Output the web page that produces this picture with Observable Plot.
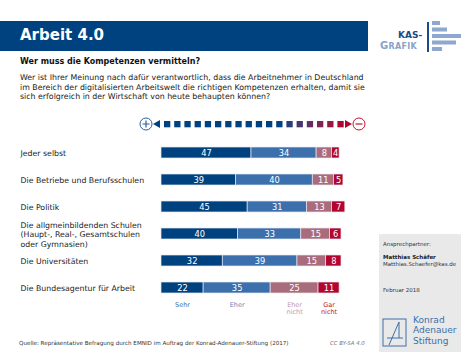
<!DOCTYPE html>
<html><head><meta charset="utf-8">
<script src="https://cdn.jsdelivr.net/npm/d3@7"></script>
<script src="https://cdn.jsdelivr.net/npm/@observablehq/plot@0.6"></script>
<style>
body{margin:0;background:#fff;font-family:"DejaVu Sans",Verdana,sans-serif;}
#page{position:relative;width:475px;height:356px;overflow:hidden;background:#fff;}
.abs{position:absolute;white-space:nowrap;}
#chart{position:absolute;left:0;top:0;}
</style></head>
<body><div id="page">
<div class="abs" style="left:0;top:21px;width:368px;height:30px;background:#00427f;"></div>
<div class="abs" style="left:20px;top:26px;color:#fff;font-weight:bold;font-size:15px;">Arbeit 4.0</div>
<div class="abs" style="left:398px;top:30px;color:#1a4a8a;font-weight:bold;font-size:9px;">KAS-</div>
<div class="abs" style="left:380px;top:40px;color:#8aa2c8;font-weight:bold;font-size:10px;letter-spacing:0.3px;">G<span style="font-size:8px">RAFIK</span></div>
<div class="abs" style="left:427px;top:22px;width:1.5px;height:30px;background:#1a4a8a;"></div>
<div id="logo"></div>
<div class="abs" style="left:20px;top:57px;color:#111;font-weight:bold;font-size:8px;">Wer muss die Kompetenzen vermitteln?</div>
<div class="abs" style="left:20px;top:73px;color:#222;font-size:7.85px;line-height:9.5px;">Wer ist Ihrer Meinung nach dafür verantwortlich, dass die Arbeitnehmer in Deutschland<br>im Bereich der digitalisierten Arbeitswelt die richtigen Kompetenzen erhalten, damit sie<br>sich erfolgreich in der Wirtschaft von heute behaupten können?</div>
<svg id="scalebar" class="abs" style="left:0;top:112px;" width="475" height="26"></svg>
<div class="abs" style="left:379px;top:234px;width:82px;height:118px;background:#e9e9e9;"></div>
<div class="abs" style="left:383px;top:241px;color:#333;font-size:5.5px;">Ansprechpartner:</div>
<div class="abs" style="left:383px;top:254px;color:#222;font-size:5.5px;font-weight:bold;">Matthias Schäfer</div>
<div class="abs" style="left:383px;top:261px;color:#333;font-size:5.5px;">Matthias.Schaefer@kas.de</div>
<div class="abs" style="left:383px;top:287px;color:#333;font-size:5.5px;">Februar 2018</div>
<svg class="abs" style="left:382px;top:318px;" width="26" height="30"><rect x="1" y="1" width="23" height="27" fill="none" stroke="#3b6fa8" stroke-width="1"/><path d="M7 27 L17 4 L17 20 M5 20 L21 20" fill="none" stroke="#3b6fa8" stroke-width="1"/></svg>
<div class="abs" style="left:413px;top:315px;color:#3b6fa8;font-size:9px;line-height:10.3px;">Konrad<br>Adenauer<br>Stiftung</div>
<div class="abs" style="left:19px;top:340px;color:#333;font-size:5.6px;">Quelle: Repräsentative Befragung durch EMNID im Auftrag der Konrad-Adenauer-Stiftung (2017)</div>
<div class="abs" style="left:330px;top:340px;color:#777;font-size:5.4px;font-style:italic;">CC BY-SA 4.0</div>
<div id="chart"></div>
</div>
<script>
const categories = ["Jeder selbst","Die Betriebe und Berufsschulen","Die Politik","Die allgmeinbildenden Schulen\n(Haupt-, Real-, Gesamtschulen\noder Gymnasien)","Die Universitäten","Die Bundesagentur für Arbeit"];
const levels = ["Sehr","Eher","Eher nicht","Gar nicht"];
const legendLabels = ["Sehr","Eher","Eher\nnicht","Gar\nnicht"];
const sehr = [47,39,45,40,32,22];
const eher = [34,40,31,33,39,35];
const eherNicht = [8,11,13,15,15,25];
const garNicht = [4,5,7,6,8,11];
const barColors = ["#00427f","#3b70ad","#a96c7c","#b3052f"];
const legendColors = ["#3b6fa8","#5a86bd","#c397a5","#c0142f"];

const series = [sehr, eher, eherNicht, garNicht];
const data = [];
categories.forEach((c,i)=>levels.forEach((l,j)=>data.push({cat:c, level:l, value:series[j][i]})));

// legend labels under last bar segments
const last = categories.length-1;
let acc = 0;
const legendData = levels.map((l,j)=>{const v=series[j][last]; const mid=acc+v/2; acc+=v; return {x:mid, text:legendLabels[j], color:legendColors[j]};});

const chart = Plot.plot({
  width:475, height:356,
  marginLeft:161, marginRight:122.5, marginTop:128, marginBottom:44,
  style:{fontFamily:"DejaVu Sans, Verdana, sans-serif", background:"transparent"},
  x:{domain:[0,100], axis:null},
  y:{domain:categories, axis:null, padding:0.6},
  color:{domain:levels, range:barColors},
  marks:[
    Plot.barX(data, Plot.stackX({x:"value", y:"cat", z:"level", fill:"level", stroke:"#e4e9f1", strokeWidth:0.7})),
    Plot.textX(data, Plot.stackX({x:"value", y:"cat", z:"level", text:d=>String(d.value), fill:"white", fontSize:8.3})),
    Plot.text(categories, {y:d=>d, text:d=>d, frameAnchor:"left", textAnchor:"start", dx:-141, fontSize:7.8, fill:"#222", lineHeight:1.22}),
    Plot.text(legendData, {x:"x", text:"text", fill:"color", frameAnchor:"bottom", dy:-10, lineAnchor:"top", fontSize:6.5, lineHeight:1.05})
  ]
});
document.getElementById("chart").appendChild(chart);

// decorative scale arrow
const svg = d3.select("#scalebar");
const cy = 12;
svg.append("circle").attr("cx",146).attr("cy",cy).attr("r",6).attr("fill","#fff").attr("stroke","#2f5f9c").attr("stroke-width",1);
svg.append("path").attr("d",`M142.5 ${cy} h7 M146 ${cy-3.5} v7`).attr("stroke","#2f5f9c").attr("stroke-width",1.2);
svg.append("path").attr("d",`M153 ${cy} L160 ${cy-4} L160 ${cy+4} Z`).attr("fill","#00427f");
const sqColors = ["#00427f","#00427f","#00427f","#00427f","#00427f","#00427f","#00427f","#00427f","#00427f","#00427f","#00427f","#00427f","#2a3d7a","#48376f","#632f63","#7e2653","#981a43","#b0062f"];
sqColors.forEach((c,i)=>svg.append("rect").attr("x",164+i*10.2).attr("y",cy-3).attr("width",6.3).attr("height",6.3).attr("fill",c));
svg.append("path").attr("d",`M345 ${cy-4} L352 ${cy} L345 ${cy+4} Z`).attr("fill","#b0062f");
svg.append("circle").attr("cx",359).attr("cy",cy).attr("r",6).attr("fill","#fff").attr("stroke","#c0142f").attr("stroke-width",1);
svg.append("path").attr("d",`M355.5 ${cy} h7`).attr("stroke","#c0142f").attr("stroke-width",1.2);

// KAS logo bars
const logo = d3.select("#logo").append("svg").attr("class","abs").style("left","0px").style("top","0px").attr("width",475).attr("height",60);
[[23,8],[29.5,15],[36,29],[42.5,24],[49,10]].forEach(([y,w])=>logo.append("rect").attr("x",432).attr("y",y-2).attr("width",w).attr("height",4).attr("fill","#8ea8d0"));
</script>
</body></html>
